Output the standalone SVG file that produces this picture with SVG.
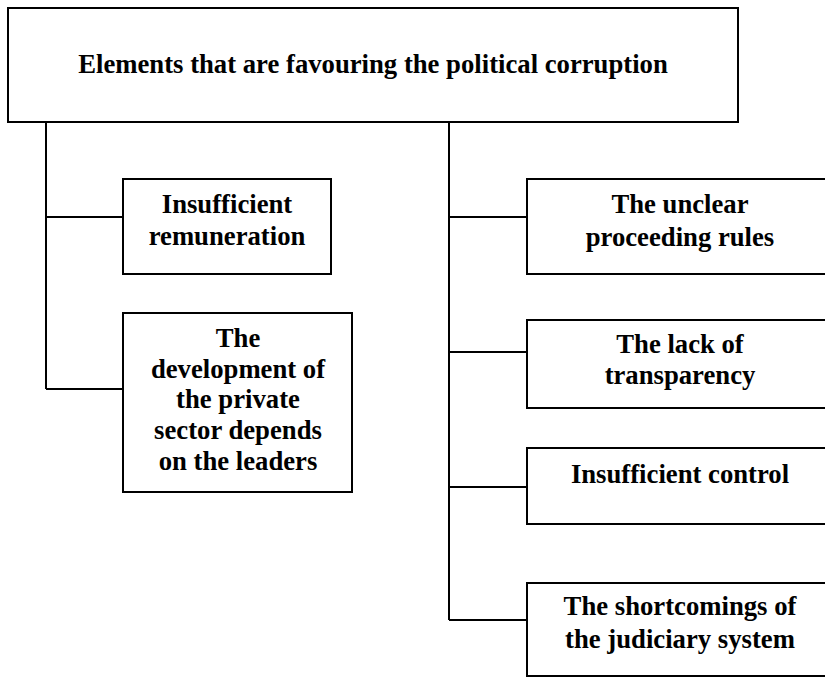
<svg xmlns="http://www.w3.org/2000/svg" width="825" height="678" viewBox="0 0 825 678">
<style>
.box{fill:#fff;stroke:#000;stroke-width:2}
.ln{fill:none;stroke:#000;stroke-width:2}
text{font-family:"Liberation Serif","Times New Roman",serif;font-weight:bold;font-size:26.7px;fill:#000;text-anchor:middle}
</style>
<rect x="0" y="0" width="825" height="678" fill="#fff"/>
<g id="connectors">
<path class="ln" d="M46,122 V389 M46,217 H123 M46,389 H123"/>
<path class="ln" d="M449,122 V620 M449,217 H527 M449,352 H527 M449,487 H527 M449,620 H527"/>
</g>
<g id="root">
<rect class="box" x="8" y="8" width="730" height="114"/>
<text x="373" y="73">Elements that are favouring the political corruption</text>
</g>
<g id="n-remuneration">
<rect class="box" x="123" y="179" width="208" height="95"/>
<text x="227" y="213">Insufficient</text>
<text x="227" y="245">remuneration</text>
</g>
<g id="n-private">
<rect class="box" x="123" y="313" width="229" height="179"/>
<text x="238" y="347">The</text>
<text x="238" y="378">development of</text>
<text x="238" y="408">the private</text>
<text x="238" y="439">sector depends</text>
<text x="238" y="470">on the leaders</text>
</g>
<g id="n-rules">
<rect class="box" x="527" y="179" width="310" height="95"/>
<text x="680" y="213">The unclear</text>
<text x="680" y="246">proceeding rules</text>
</g>
<g id="n-transparency">
<rect class="box" x="527" y="320" width="310" height="88"/>
<text x="680" y="353">The lack of</text>
<text x="680" y="384">transparency</text>
</g>
<g id="n-control">
<rect class="box" x="527" y="448" width="310" height="76"/>
<text x="680" y="483">Insufficient control</text>
</g>
<g id="n-judiciary">
<rect class="box" x="527" y="583" width="310" height="93"/>
<text x="680" y="615">The shortcomings of</text>
<text x="680" y="648">the judiciary system</text>
</g>
</svg>
